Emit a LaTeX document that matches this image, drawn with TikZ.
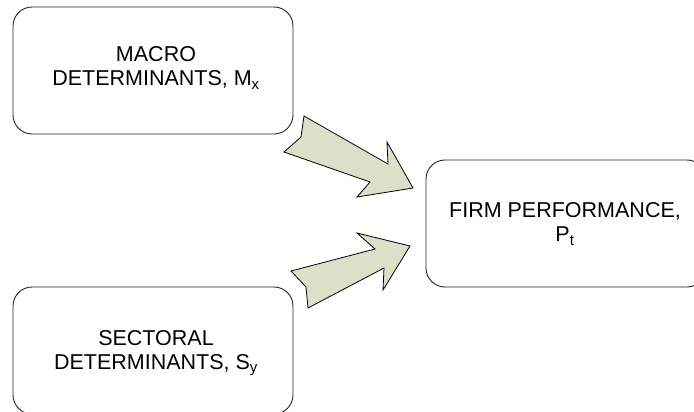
\documentclass[tikz,border=0pt]{standalone}
\usepackage{fontspec}
\setmainfont{Liberation Sans}
\begin{document}
\begin{tikzpicture}[x=1pt,y=-1pt,
  box/.style={draw=black!85, line width=0.9pt, rounded corners=19pt},
  boxtext/.style={align=center, font=\fontsize{21.5}{24}\selectfont, inner sep=0pt},
  blockarrow/.style={draw=black, line width=0.8pt, fill=arrowfill, line join=miter}]
\definecolor{arrowfill}{RGB}{221,224,200}
\useasboundingbox (0,0) rectangle (694,412);
\begin{scope}
\clip (0,0) rectangle (694,412);
% boxes
\draw[box] (13,7) rectangle (293,134);
\node[boxtext] (macro) at (156,68) {MACRO\\DETERMINANTS, M\textsubscript{x}};
\draw[box] (13,287) rectangle (293,414);
\node[boxtext] (sect) at (156,353) {SECTORAL\\DETERMINANTS, S\textsubscript{y}};
\draw[box] (426,160) rectangle (706,287);
\node[boxtext] (firm) at (565,224) {FIRM PERFORMANCE,\\P\textsubscript{t}};
% arrows
\draw[blockarrow] (304,116) -- (301,137) -- (284,152) -- (370,182) -- (357,197)
  -- (413,188) -- (387,142) -- (388,164) -- cycle;
\draw[blockarrow] (291,271) -- (306,287) -- (308,308) -- (384,268) -- (383,290)
  -- (410,246) -- (357,233) -- (375,249) -- cycle;
\end{scope}
\end{tikzpicture}
\end{document}
